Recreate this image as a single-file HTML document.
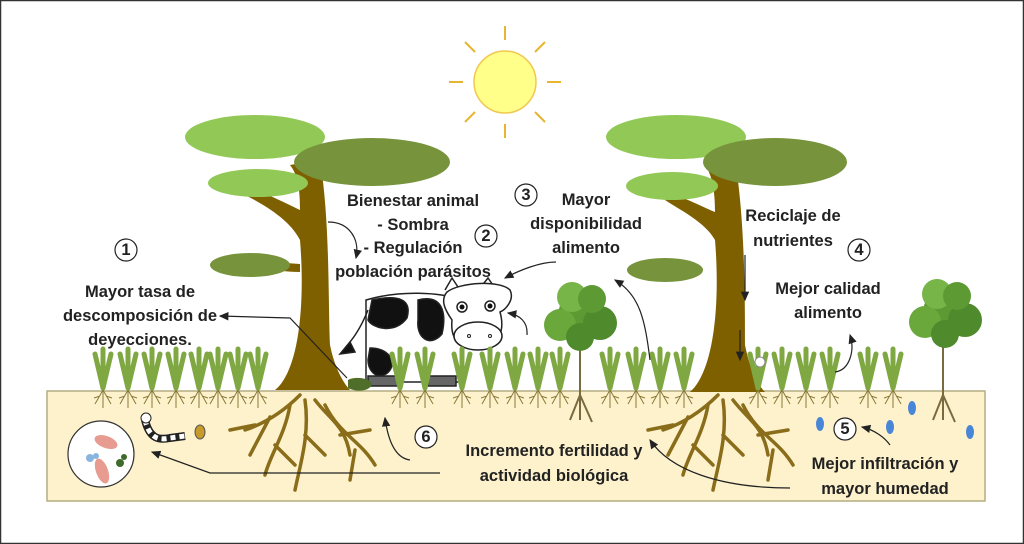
<!DOCTYPE html>
<html><head><meta charset="utf-8"><style>
html,body{margin:0;padding:0;background:#fff}
svg{display:block}
text{font-family:"Liberation Sans",sans-serif;font-weight:bold;font-size:16.5px;fill:#222;text-anchor:middle}
</style></head><body>
<svg width="1024" height="544" viewBox="0 0 1024 544" xmlns="http://www.w3.org/2000/svg">
<defs>
<marker id="ar" markerWidth="8" markerHeight="8" refX="7" refY="4" orient="auto"><path d="M0,0.5 L8,4 L0,7.5z" fill="#222"/></marker>
<g id="tuft"><path d="M0,388 L-8,354 M0,388 L0,349 M0,388 L8,354" stroke="#7fa843" stroke-width="5" stroke-linecap="round" fill="none"/>
<path d="M0,390 L-8,404 M0,390 L0,408 M0,390 L8,404 M-3,396 L-9,398 M3,396 L9,398" stroke="#8a7a3a" stroke-width="1" fill="none"/></g>
<g id="roots" stroke="#8a6d1a" stroke-width="3.5" fill="none" stroke-linecap="round">
<path d="M0,0 C-20,20 -40,30 -55,35 M-30,22 L-50,60 M-10,10 C-15,40 -30,60 -35,80 M-25,50 L-5,70 M5,5 C10,40 0,70 -5,95 M5,40 L25,60 M15,5 C30,25 45,30 50,60 M40,40 L70,35 M25,10 C40,40 60,45 75,70 M55,55 L50,85 M-45,30 L-70,35"/>
</g>
<g id="bush">
<circle cx="0" cy="0" r="22" fill="#5e9a34"/><circle cx="-20" cy="10" r="16" fill="#6aa83c"/><circle cx="20" cy="8" r="17" fill="#4f8a2c"/><circle cx="-8" cy="-18" r="15" fill="#78b548"/><circle cx="12" cy="-16" r="14" fill="#5e9a34"/><circle cx="0" cy="22" r="14" fill="#4f8a2c"/>
</g>
</defs>
<rect x="0.5" y="0.5" width="1023" height="543" fill="#fff" stroke="#333" stroke-width="1.5"/>
<rect x="47" y="391" width="938" height="110" fill="#fdf2cc" stroke="#b3ad82" stroke-width="1.5"/>
<g stroke="#e8b530" stroke-width="2">
<line x1="505" y1="40" x2="505" y2="26"/><line x1="505" y1="124" x2="505" y2="138"/>
<line x1="463" y1="82" x2="449" y2="82"/><line x1="547" y1="82" x2="561" y2="82"/>
<line x1="475" y1="52" x2="465" y2="42"/><line x1="535" y1="52" x2="545" y2="42"/>
<line x1="475" y1="112" x2="465" y2="122"/><line x1="535" y1="112" x2="545" y2="122"/>
</g>
<circle cx="505" cy="82" r="31" fill="#ffff8a" stroke="#f0c850" stroke-width="1.5"/>
<use href="#roots" x="300" y="395"/>
<path d="M275,390 C300,370 305,300 300,240 C290,220 265,205 245,195 L250,188 C270,195 290,205 300,210 C300,190 298,175 290,165 L320,160 C330,220 328,300 330,345 C335,370 345,385 350,390 Z" fill="#7f6000"/>
<path d="M300,272 C285,272 275,270 270,268 L272,262 L300,264Z" fill="#7f6000"/>
<ellipse cx="255" cy="137" rx="70" ry="22" fill="#92c956"/>
<ellipse cx="372" cy="162" rx="78" ry="24" fill="#77933c"/>
<ellipse cx="258" cy="183" rx="50" ry="14" fill="#92c956"/>
<ellipse cx="250" cy="265" rx="40" ry="12" fill="#77933c"/>
<use href="#roots" x="718" y="395"/>
<path d="M690,392 C715,370 720,300 715,240 C705,222 680,210 665,200 L670,193 C690,200 705,208 715,212 C715,190 712,175 705,165 L735,160 C745,220 745,300 745,345 C750,370 758,385 765,392 Z" fill="#7f6000"/>
<ellipse cx="676" cy="137" rx="70" ry="22" fill="#92c956"/>
<ellipse cx="775" cy="162" rx="72" ry="24" fill="#77933c"/>
<ellipse cx="672" cy="186" rx="46" ry="14" fill="#92c956"/>
<ellipse cx="665" cy="270" rx="38" ry="12" fill="#77933c"/>
<path d="M580,330 L580,420 M580,395 L570,420 M580,395 L592,422" stroke="#7a6a40" stroke-width="2" fill="none"/>
<use href="#bush" x="580" y="315"/>
<path d="M943,330 L943,420 M943,395 L933,420 M943,395 L955,422" stroke="#7a6a40" stroke-width="2" fill="none"/>
<use href="#bush" x="945" y="312"/>
<!-- cow -->
<g stroke="#222" stroke-width="1.5">
<path d="M366,300 C400,290 440,292 462,300 L462,382 L366,382 Z" fill="#fff"/>
<path d="M368,310 C360,330 352,340 345,348" fill="none"/>
<path d="M340,354 L350,342 L355,352 Z" fill="#111"/>
<path d="M372,300 C400,294 412,300 407,318 C395,335 372,328 368,320Z" fill="#111"/>
<path d="M418,300 C442,294 447,312 442,334 C430,348 416,338 418,320Z" fill="#111"/>
<path d="M370,348 C392,348 398,366 386,374 C374,380 368,368 368,360Z" fill="#111"/>
<rect x="368" y="376" width="30" height="10" fill="#666"/><rect x="428" y="376" width="28" height="10" fill="#666"/>
<path d="M445,290 L452,278 L460,290 M480,288 L488,278 L495,288" fill="#fff"/>
<path d="M447,292 C460,282 500,280 510,290 C515,300 505,310 500,312 C505,330 500,345 480,348 C460,350 450,340 452,320 C445,310 440,300 447,292Z" fill="#fff"/>
<ellipse cx="478" cy="336" rx="24" ry="14" fill="#fff"/>
</g>
<circle cx="462" cy="307" r="5" fill="#fff" stroke="#222" stroke-width="1.5"/><circle cx="462" cy="307" r="2.5" fill="#111"/>
<circle cx="490" cy="306" r="5" fill="#fff" stroke="#222" stroke-width="1.5"/><circle cx="490" cy="306" r="2.5" fill="#111"/>
<circle cx="469" cy="336" r="1.5" fill="none" stroke="#222"/><circle cx="490" cy="336" r="1.5" fill="none" stroke="#222"/>
<path d="M348,380 C355,376 370,378 372,384 C370,392 355,392 348,388Z" fill="#4f6e2a"/>
<use href="#tuft" x="103"/><use href="#tuft" x="128"/><use href="#tuft" x="152"/><use href="#tuft" x="176"/><use href="#tuft" x="199"/><use href="#tuft" x="218"/><use href="#tuft" x="238"/><use href="#tuft" x="258"/>
<use href="#tuft" x="400"/><use href="#tuft" x="425"/><use href="#tuft" x="462"/><use href="#tuft" x="490"/><use href="#tuft" x="515"/><use href="#tuft" x="538"/><use href="#tuft" x="560"/><use href="#tuft" x="610"/><use href="#tuft" x="636"/><use href="#tuft" x="660"/><use href="#tuft" x="684"/>
<use href="#tuft" x="758"/><use href="#tuft" x="782"/><use href="#tuft" x="806"/><use href="#tuft" x="830"/><use href="#tuft" x="868"/><use href="#tuft" x="893"/>
<circle cx="101" cy="454" r="33" fill="#fff" stroke="#333" stroke-width="1.2"/>
<ellipse cx="106" cy="442" rx="12" ry="6" fill="#e89b90" transform="rotate(20 106 442)"/>
<ellipse cx="102" cy="471" rx="6" ry="13" fill="#e89b90" transform="rotate(-20 102 471)"/>
<circle cx="90" cy="458" r="4" fill="#8ab4e0"/><circle cx="96" cy="456" r="3" fill="#8ab4e0"/>
<circle cx="120" cy="463" r="4" fill="#3e6b2a"/><circle cx="124" cy="457" r="3" fill="#3e6b2a"/>
<path d="M145,420 C150,440 160,440 170,438 L185,436" stroke="#222" stroke-width="8" fill="none"/>
<path d="M145,420 C150,440 160,440 170,438 L185,436" stroke="#fff" stroke-width="5" stroke-dasharray="5 4" fill="none"/>
<circle cx="146" cy="418" r="5" fill="#fff" stroke="#222"/>
<ellipse cx="200" cy="432" rx="5" ry="7" fill="#c89a2a" stroke="#555"/>
<g fill="#4a86d8"><ellipse cx="820" cy="424" rx="4" ry="7"/><ellipse cx="890" cy="427" rx="4" ry="7"/><ellipse cx="912" cy="408" rx="4" ry="7"/><ellipse cx="970" cy="432" rx="4" ry="7"/></g>
<circle cx="760" cy="362" r="5" fill="#fff" stroke="#888"/>
<g stroke="#222" stroke-width="1.2" fill="none" marker-end="url(#ar)">
<path d="M347,378 L290,318 L220,316"/>
<path d="M328,222 C350,222 360,240 356,258"/>
<path d="M556,262 C540,262 520,270 505,278"/>
<path d="M527,335 C528,322 520,315 508,313"/>
<path d="M650,360 C645,320 640,295 615,280"/>
<path d="M745,255 L745,300"/>
<path d="M740,330 L740,360"/>
<path d="M835,372 C850,370 855,350 850,335"/>
<path d="M890,445 C885,438 875,430 862,427"/>
<path d="M410,460 C395,458 388,440 385,418"/>
<path d="M440,473 L210,473 L152,452"/>
<path d="M790,488 C720,488 670,470 650,440"/>
</g>
<g fill="#fff" stroke="#222" stroke-width="1.2">
<circle cx="126" cy="250" r="11"/><circle cx="486" cy="236" r="11"/><circle cx="526" cy="195" r="11"/><circle cx="859" cy="250" r="11"/><circle cx="845" cy="429" r="11"/><circle cx="426" cy="437" r="11"/>
</g>
<g style="font-size:14px">
<text x="126" y="255">1</text><text x="486" y="241">2</text><text x="526" y="200">3</text><text x="859" y="255">4</text><text x="845" y="434">5</text><text x="426" y="442">6</text>
</g>
<text x="140" y="297">Mayor tasa de</text>
<text x="140" y="321">descomposición de</text>
<text x="140" y="345">deyecciones.</text>
<text x="413" y="206">Bienestar animal</text>
<text x="413" y="230">- Sombra</text>
<text x="413" y="253">- Regulación</text>
<text x="413" y="277">población parásitos</text>
<text x="586" y="205">Mayor</text>
<text x="586" y="229">disponibilidad</text>
<text x="586" y="253">alimento</text>
<text x="793" y="221">Reciclaje de</text>
<text x="793" y="246">nutrientes</text>
<text x="828" y="294">Mejor calidad</text>
<text x="828" y="318">alimento</text>
<text x="885" y="469">Mejor infiltración y</text>
<text x="885" y="494">mayor humedad</text>
<text x="554" y="456">Incremento fertilidad y</text>
<text x="554" y="481">actividad biológica</text>
</svg>
</body></html>
